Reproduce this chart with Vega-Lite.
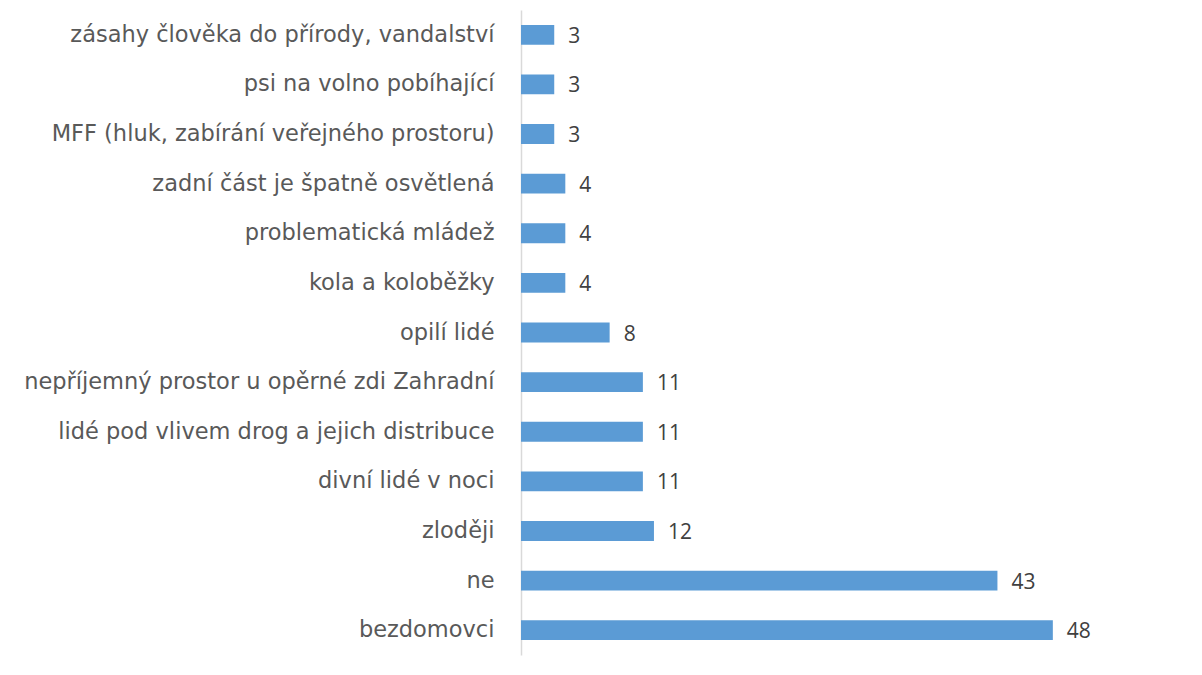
{
  "$schema": "https://vega.github.io/schema/vega-lite/v6.json",
  "autosize": "none",
  "width": 554,
  "height": 645,
  "padding": {"left": 521, "top": 10, "right": 127, "bottom": 20},
  "background": "white",
  "config": {"view": {"stroke": null}},
  "data": {
    "values": [
      {"kategorie": "zásahy člověka do přírody, vandalství", "pocet": 3},
      {"kategorie": "psi na volno pobíhající", "pocet": 3},
      {"kategorie": "MFF (hluk, zabírání veřejného prostoru)", "pocet": 3},
      {"kategorie": "zadní část je špatně osvětlená", "pocet": 4},
      {"kategorie": "problematická mládež", "pocet": 4},
      {"kategorie": "kola a koloběžky", "pocet": 4},
      {"kategorie": "opilí lidé", "pocet": 8},
      {"kategorie": "nepříjemný prostor u opěrné zdi Zahradní", "pocet": 11},
      {"kategorie": "lidé pod vlivem drog a jejich distribuce", "pocet": 11},
      {"kategorie": "divní lidé v noci", "pocet": 11},
      {"kategorie": "zloději", "pocet": 12},
      {"kategorie": "ne", "pocet": 43},
      {"kategorie": "bezdomovci", "pocet": 48}
    ]
  },
  "encoding": {
    "y": {
      "field": "kategorie",
      "type": "nominal",
      "sort": null,
      "scale": {"paddingInner": 0.6, "paddingOuter": 0.3},
      "axis": {
        "title": null,
        "ticks": false,
        "domainColor": "#d9d9d9",
        "domainWidth": 1.5,
        "labelFont": "DejaVu Sans",
        "labelFontSize": 22.5,
        "labelColor": "#595959",
        "labelPadding": 27,
        "labelLimit": 600
      }
    },
    "x": {
      "field": "pocet",
      "type": "quantitative",
      "scale": {"domain": [0, 50], "nice": false},
      "axis": null
    }
  },
  "layer": [
    {"mark": {"type": "bar", "color": "#5b9bd5"}},
    {
      "mark": {"type": "text", "align": "left", "baseline": "middle", "dx": 14, "dy": 2, "font": "Open Sans", "fontSize": 21, "color": "#404040"},
      "encoding": {"text": {"field": "pocet", "type": "quantitative"}}
    }
  ]
}
